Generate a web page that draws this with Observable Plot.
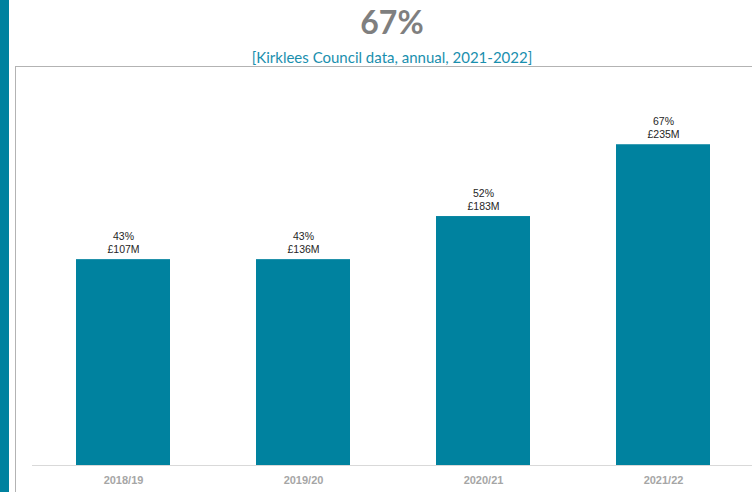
<!DOCTYPE html>
<html>
<head>
<meta charset="utf-8">
<script src="https://cdn.jsdelivr.net/npm/d3@7"></script>
<script src="https://cdn.jsdelivr.net/npm/@observablehq/plot@0.6"></script>
<style>
  html, body { margin: 0; padding: 0; background: #fff; }
  body { width: 752px; height: 492px; position: relative; overflow: hidden; }
  #stripe { position: absolute; left: 0; top: 0; width: 9px; height: 492px; background: #00829F; }
  #title { position: absolute; left: 192px; width: 400px; top: 6px; text-align: center;
           font-family: Lato, "Open Sans", sans-serif; font-weight: bold; font-size: 32px; line-height: 32px; color: #7f7f7f; }
  #subtitle { position: absolute; left: 192px; width: 400px; top: 50px; text-align: center;
           font-family: Lato, "Open Sans", sans-serif; font-size: 15px; line-height: 15px; color: #1a8fae; }
  #box { position: absolute; left: 15px; top: 66px; width: 740px; height: 430px;
         border-left: 1.5px solid #b3b3b3; border-top: 1.5px solid #b3b3b3; }
  #chart { position: absolute; left: 1px; top: 0px; }
</style>
</head>
<body>
<div id="stripe"></div>
<div id="title">67%</div>
<div id="subtitle">[Kirklees Council data, annual, 2021-2022]</div>
<div id="box"><div id="chart"></div></div>
<script>
const categories = ["2018/19", "2019/20", "2020/21", "2021/22"];
const percents = [43, 43, 52, 67];
const amounts = [107, 136, 183, 235];

const data = categories.map((c, i) => ({
  year: c,
  pct: percents[i],
  label: `${percents[i]}%\n£${amounts[i]}M`
}));

const chart = Plot.plot({
  width: 736,
  height: 425,
  marginLeft: 15,
  marginRight: 0,
  marginTop: 15,
  marginBottom: 27,
  style: { fontFamily: "'Liberation Sans', Arial, sans-serif", background: "transparent" },
  x: { domain: categories, paddingInner: 0.479, paddingOuter: 0.2395 },
  y: { domain: [0, 80], axis: null },
  marks: [
    Plot.barY(data, { x: "year", y: "pct", fill: "#00829F" }),
    Plot.ruleY([0], { stroke: "#d9d9d9", strokeWidth: 1.2 }),
    Plot.text(data, { x: "year", y: "pct", text: "label", lineAnchor: "bottom", dy: -7,
                      fontSize: 10.5, lineHeight: 1.22, fill: "#262626" }),
    Plot.axisX({ tickSize: 0, tickPadding: 11, fontSize: 11, fontWeight: "bold", fill: "#a6a6a6", label: null })
  ]
});
document.getElementById("chart").appendChild(chart);
</script>
</body>
</html>
